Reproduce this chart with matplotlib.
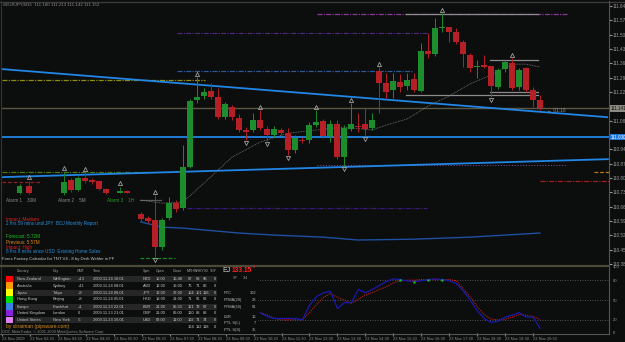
import numpy as np
import matplotlib
matplotlib.use('Agg')
import matplotlib.pyplot as plt
import matplotlib.patches as mpatches
from matplotlib.lines import Line2D

plt.rcParams['font.family'] = ['Liberation Sans', 'DejaVu Sans']

W, H = 625, 342
BG = '#0c0d0d'
GREEN = '#1c8c2c'
RED = '#b42026'
BLUE = '#2286e6'

# ---------------- data ----------------
opens = [110.624, 110.604, 110.594, 110.462, 110.604, 110.677, 110.653, 110.853, 111.181, 111.200,
         111.224, 111.195, 111.097, 111.146, 111.093, 111.034, 111.034, 111.083, 111.039, 111.010,
         111.034, 111.019, 110.937, 110.985, 110.985, 111.058, 111.078, 111.004, 111.063, 110.902,
         111.039, 111.054, 111.063, 111.044, 111.322, 111.264, 111.230, 111.268, 111.249, 111.283,
         111.224, 111.420, 111.405, 111.532, 111.537, 111.513, 111.464, 111.400, 111.342, 111.351,
         111.347, 111.244, 111.332, 111.361, 111.244, 111.337, 111.230, 111.181]
highs = [110.633, 110.614, 110.716, 110.604, 110.707, 110.692, 110.961, 111.185, 111.293, 111.239,
         111.264, 111.239, 111.171, 111.156, 111.112, 111.049, 111.117, 111.132, 111.054, 111.054,
         111.044, 111.044, 111.010, 111.000, 111.073, 111.132, 111.088, 111.083, 111.083, 111.058,
         111.166, 111.117, 111.141, 111.117, 111.342, 111.312, 111.312, 111.308, 111.312, 111.312,
         111.459, 111.508, 111.581, 111.605, 111.537, 111.532, 111.474, 111.410, 111.376, 111.400,
         111.347, 111.337, 111.376, 111.386, 111.337, 111.342, 111.244, 111.205]
lows = [110.589, 110.580, 110.414, 110.448, 110.594, 110.633, 110.643, 110.848, 111.166, 111.185,
        111.185, 111.088, 111.088, 111.083, 111.024, 110.985, 111.024, 111.034, 110.980, 111.000,
        111.010, 110.912, 110.921, 110.970, 110.970, 111.049, 110.995, 110.975, 110.892, 110.858,
        111.029, 111.024, 111.004, 111.034, 111.117, 111.190, 111.190, 111.220, 111.230, 111.220,
        111.220, 111.386, 111.395, 111.513, 111.464, 111.454, 111.342, 111.317, 111.288, 111.337,
        111.195, 111.234, 111.317, 111.230, 111.230, 111.220, 111.146, 111.132]
closes = [110.599, 110.589, 110.462, 110.594, 110.677, 110.648, 110.853, 111.176, 111.195, 111.220,
          111.195, 111.097, 111.161, 111.097, 111.034, 111.024, 111.083, 111.044, 111.010, 111.039,
          111.019, 110.937, 110.995, 110.980, 111.058, 111.073, 111.004, 111.063, 110.902, 111.044,
          111.063, 111.049, 111.039, 111.083, 111.264, 111.220, 111.273, 111.244, 111.278, 111.230,
          111.420, 111.405, 111.532, 111.537, 111.513, 111.464, 111.405, 111.337, 111.347, 111.342,
          111.249, 111.327, 111.366, 111.239, 111.327, 111.230, 111.181, 111.141]

# moving average (gray) and lower band (dark blue)
ma_idx = [0, 3, 6, 9, 13, 17, 21, 25, 29, 33, 35, 38, 41, 44, 47, 50, 53, 55, 57]
ma_val = [110.692, 110.677, 110.682, 110.775, 110.902, 110.975, 111.019, 111.034, 111.049, 111.034,
          111.058, 111.088, 111.151, 111.200, 111.259, 111.303, 111.356, 111.356, 111.342]
band_idx = [0, 3, 6, 14, 19, 26, 31, 39, 47, 52, 57]
band_val = [110.585, 110.560, 110.555, 110.531, 110.521, 110.511, 110.497, 110.501, 110.511, 110.521, 110.531]

# fractals
up_frac = [2, 8, 17, 25, 30, 34, 43, 53]
dn_frac = [2, 15, 18, 21, 29, 32, 50]

# trend lines (bar index, price)
down_trend = ([-19.9, 66.6], [111.332, 111.097])
up_trend = ([-19.9, 66.7], [110.804, 110.892])
blue_level = 111.000
bid = 111.141

# horizontal objects: price, from, to, colour, style, width
levels = [
    (111.278, -19.9, 9.1, '#8c8c12', (0, (4, 1, 1, 1)), 0.9),
    (111.508, 5.1, 40.9, '#4a2878', (0, (4, 1, 1, 1)), 0.9),
    (111.601, 25.1, 60.9, '#8a3a9a', (0, (4, 1, 1, 1)), 0.9),
    (111.322, 5.1, 38.9, '#2a5a9a', (0, (4, 1, 1, 1)), 0.9),
    (110.863, 25.1, 60.9, '#6a4a8a', (0, (1, 1.5)), 0.8),
    (110.829, 64.7, 66.9, '#c07a10', (0, (3, 1.5)), 0.9),
    (110.785, 57.0, 66.9, '#a02020', (0, (4, 1, 1, 1)), 0.9),
    (110.653, 6.6, 40.9, '#3a1a7a', (0, (4, 1, 1, 1)), 0.9),
    (110.829, -19.9, 1.3, '#4a7a10', (0, (4, 1, 1, 1)), 0.9),
    (110.780, -19.9, -14.3, '#8a2020', (0, (3, 1.5)), 0.9),
    (110.409, -0.1, 4.9, '#1a8a1a', (0, (3, 1.5)), 0.9),
    (111.601, 37.9, 56.7, '#8c8c8c', '-', 0.9),
    (111.376, 49.9, 56.7, '#8c8c8c', '-', 0.9),
    (111.205, 37.9, 56.7, '#8c8c8c', '-', 0.9),
    (111.220, 49.9, 56.7, '#8c8c8c', '-', 0.9),
    (110.692, -0.1, 2.9, '#5a5a5a', '-', 0.9),
]

# "Alarm" mini candles
al_idx = [-17.3, -16, -11, -10, -9, -8, -7, -6, -5, -3, -2]
al_o = [110.726, 110.760, 110.726, 110.790, 110.741, 110.799, 110.790, 110.785, 110.746, 110.729, 110.734]
al_h = [110.770, 110.785, 110.829, 110.799, 110.809, 110.824, 110.799, 110.790, 110.751, 110.756, 110.741]
al_l = [110.721, 110.721, 110.716, 110.731, 110.736, 110.775, 110.770, 110.741, 110.721, 110.726, 110.726]
al_c = [110.760, 110.726, 110.780, 110.741, 110.799, 110.785, 110.780, 110.746, 110.726, 110.734, 110.729]
al_frac = [1, 2, 5, 9]

# stochastic
st_idx = list(range(17, 58))
st_k = [30, 25, 22, 22, 22, 22, 20, 42, 55, 61, 63, 37, 46, 46, 66, 61, 66, 72, 78, 82, 81,
        79, 78, 79, 81, 82, 81, 79, 75, 64, 50, 34, 22, 16, 18, 24, 27, 31, 24, 24, 7]
st_d = [31, 27, 22, 20, 20, 20, 20, 31, 43, 54, 60, 54, 50, 45, 51, 58, 61, 66, 70, 76, 79,
        80, 80, 81, 81, 81, 81, 81, 79, 67, 55, 40, 28, 21, 20, 21, 24, 28, 27, 25, 20]
ob_idx = [37, 39, 41, 43]
st_levels = [20, 50, 80]

# price scale (the 111.150 and 111.010 rows are covered by the bid / level boxes)
price_ticks = [round(111.640 - 0.07 * k, 3) for k in range(19) if k not in (7, 9)]
time_idx = [-20 + 4 * k for k in range(20)]
time_lbl = ['23 Nov 2009'] + ['23 Nov %02d:30' % (k + 1) for k in range(1, 20)]

# calendar table
countries = ['New Zealand', 'Australia', 'Japan', 'Hong Kong', 'Europe', 'United Kingdom', 'United States']
cities = ['Wellington', 'Sydney', 'Tokyo', 'Beijing', 'Frankfurt', 'London', 'New York']
gmt = ['+13', '+11', '+9', '+8', '+1', '0', '-5']
loc_time = ['2009.11.24 10:01', '2009.11.24 08:01', '2009.11.24 06:01', '2009.11.24 05:01',
            '2009.11.23 22:01', '2009.11.23 21:01', '2009.11.23 16:01']
syms = ['NZD', 'AUD', 'JPY', 'HKD', 'EUR', 'GBP', 'USD']
open_t = ['10:00', '12:00', '13:00', '18:00', '21:00', '21:00', '02:00']
close_t = ['16:48', '16:00', '22:00', '21:00', '05:30', '06:00', '11:00']
mth = [67, 76, 104, 71, 121, 120, 102]
wrky = [68, 71, 101, 56, 78, 88, 71]
sd = [96, 86, 116, 62, 67, 88, 74]
tdy = [0, 0, 0, 0, 0, 0, 0]
totals = [164, 112, 118, 0]
swatches = ['#ff0000', '#ff9900', '#ffff00', '#00dd00', '#3a80e0', '#8a20e0', '#e080f0']

stats_lbl = ['PTC', 'PTMA(20)', 'PTMA(50)', 'LSR', 'PTL S(L)', 'PTL S(S)']
stats_val = ['302', '28', '61', '16', '7', '35']


def fx(x):
    return x / W


def fy(y):
    return 1 - y / H


def txt(x, y, s, c, size=3.3, **kw):
    fig.text(fx(x), fy(y), s, color=c, fontsize=size, va='center', zorder=6, **kw)


fig = plt.figure(figsize=(W / 100, H / 100), dpi=100, facecolor=BG)

# ---------------- main window ----------------
ax = fig.add_axes([fx(2), fy(266), 607 / W, 261 / H], facecolor=BG)
ax.set_xlim(-19.857, 66.857)
ax.set_ylim(110.370, 111.645)

for lv in levels:
    ax.plot([lv[1], lv[2]], [lv[0], lv[0]], color=lv[3], ls=lv[4], lw=lv[5], zorder=2)

ax.axhline(bid, color='#5a5844', lw=1, zorder=1)
ax.axhline(blue_level, color=BLUE, lw=1.3, zorder=3)
ax.plot(*down_trend, color=BLUE, lw=1.3, zorder=3)
ax.plot(*up_trend, color=BLUE, lw=1.3, zorder=3)
ax.plot(band_idx, band_val, color='#1f4fa0', lw=1, zorder=3)
ax.plot(ma_idx, ma_val, color='#7a7a7a', lw=0.6, ls=(0, (1, 1)), zorder=3)

for i in range(len(opens)):
    o, h, l, c = opens[i], highs[i], lows[i], closes[i]
    col = GREEN if c >= o else RED
    ax.vlines(i, l, h, color=col, lw=0.7, zorder=4)
    ax.bar(i, max(abs(c - o), 0.004), width=0.72, bottom=min(o, c), color=col, lw=0, zorder=5)

for i in range(len(al_idx)):
    o, h, l, c = al_o[i], al_h[i], al_l[i], al_c[i]
    col = GREEN if c >= o else RED
    ax.vlines(al_idx[i], l, h, color=col, lw=0.6, zorder=4)
    ax.bar(al_idx[i], max(abs(c - o), 0.004), width=0.72, bottom=min(o, c), color=col, lw=0, zorder=5)

mk = dict(ls='none', ms=3, mfc='none', mec='#a0a0a0', mew=0.6, zorder=6)
ax.plot(up_frac, [highs[i] + 0.016 for i in up_frac], marker='^', **mk)
ax.plot(dn_frac, [lows[i] - 0.016 for i in dn_frac], marker='v', **mk)
ax.plot([al_idx[i] for i in al_frac], [al_h[i] + 0.018 for i in al_frac], marker='^', **mk)

ax.yaxis.tick_right()
ax.set_yticks(price_ticks)
ax.set_yticklabels(['%.3f' % p for p in price_ticks])
ax.tick_params(axis='y', length=2, pad=1, labelsize=3.3, colors='#9a9a9a')
ax.set_xticks([])
for s in ax.spines.values():
    s.set_visible(False)

ax.text(1.002, bid, '%.3f' % bid, transform=ax.get_yaxis_transform(), fontsize=3.3, color='#101010',
        va='center', clip_on=False, zorder=7,
        bbox=dict(boxstyle='square,pad=0.2', fc='#8c8c80', ec='none'))
ax.text(1.002, blue_level, '%.3f' % blue_level, transform=ax.get_yaxis_transform(), fontsize=3.3,
        color='white', va='center', clip_on=False, zorder=7,
        bbox=dict(boxstyle='square,pad=0.2', fc='#1a78e0', ec='none'))

# ---------------- stochastic window ----------------
sub = fig.add_axes([fx(2), fy(333), 607 / W, 66 / H], facecolor=BG)
sub.set_xlim(-19.857, 66.857)
sub.set_ylim(0, 100)
for lv in st_levels:
    sub.axhline(lv, color='#6a6a6a', lw=0.6, ls=(0, (1, 2)))
sub.plot(st_idx, st_d, color='#c02020', lw=0.8, ls=(0, (1, 1)))
sub.plot(st_idx, st_k, color='#1a1ab0', lw=0.9)
sub.plot(ob_idx, [st_k[st_idx.index(i)] for i in ob_idx], ls='none', marker='.', ms=1.5, color='#20c020')
sub.yaxis.tick_right()
sub.set_yticks([0, 20, 50, 80, 100])
sub.tick_params(axis='y', length=0, pad=3, labelsize=3, colors='#9a9a9a')
sub.set_xticks(time_idx)
sub.set_xticklabels(time_lbl, ha='left')
sub.tick_params(axis='x', length=2, pad=1, labelsize=2.9, colors='#8a8a8a')
for s in sub.spines.values():
    s.set_visible(False)

# frame lines
for (x0, y0, x1, y1, c, w) in [(0, 1.5, 625, 1.5, '#3a3a3a', 1), (1, 1, 1, 334, '#333333', 0.8),
                               (609, 1, 609, 334, '#555555', 0.8), (0, 266, 609, 266, '#4e4a3a', 1.6),
                               (0, 334, 609, 334, '#555555', 0.8)]:
    fig.add_artist(Line2D([fx(x0), fx(x1)], [fy(y0), fy(y1)], color=c, lw=w, zorder=4))

# ---------------- texts on the main chart ----------------
txt(3, 4.5, '#EURJPY,M15  111.180 111.213 111.142 111.152', '#8c8c8c', 3.2)
txt(6, 200, 'Alarm 1    30M', '#8a8a8a', 3.3)
txt(58, 200, 'Alarm 2    5M', '#8a8a8a', 3.3)
txt(107, 200, 'Alarm 3    1H', '#2aa02a', 3.3)
txt(6, 219, 'Impact: Medium', '#e02020')
txt(6, 224, '2 hrs 59 mins until JPY  BOJ Monthly Report', '#2a92e0')
txt(6, 236, 'Forecast: 5.72M', '#20c020')
txt(6, 242, 'Previous: 5.57M', '#e08a18')
txt(6, 247, 'Impact: High', '#e02020')
txt(6, 252, '8 hrs 8 mins since USD  Existing Home Sales', '#2a92e0')
txt(2, 259, 'Forex Factory Calendar for TNT V4 - 8 by Derk Wehler in FF', '#c8c8c8', 3.1)
txt(547, 110, '\u2190 01:18', '#8a8a8a', 3.5)

# ---------------- calendar table ----------------
fig.add_artist(mpatches.Rectangle((fx(2), fy(333.5)), 256 / W, 66 / H, transform=fig.transFigure,
                                  fc=BG, ec='none', zorder=5))
row_y = [279, 285.7, 292.7, 299.3, 306.7, 313, 320]
for r in range(7):
    if r % 2 == 0:
        fig.add_artist(mpatches.Rectangle((fx(15), fy(row_y[r] + 3.2)), 202 / W, 6.4 / H,
                                          transform=fig.transFigure, fc='#262626', ec='none', zorder=5))
    fig.add_artist(mpatches.Rectangle((fx(6), fy(row_y[r] + 3.4)), 7 / W, 6.8 / H,
                                      transform=fig.transFigure, fc=swatches[r], ec='none', zorder=5))

hdr = [(17, 'Country'), (53, 'City'), (77, 'GMT'), (93, 'Time'), (143, 'Sym'), (156, 'Open'),
       (173, 'Close'), (187, 'MTH'), (194, 'WRKY'), (204, 'SD'), (209.5, 'TDY')]
for x, s in hdr:
    txt(x, 271, s, '#a8a8a8', 2.6)
cols = [(17, countries), (53, cities), (78, gmt), (93, loc_time), (143, syms), (156, open_t),
        (173, close_t), (188, mth), (196, wrky), (203, sd), (214, tdy)]
for r in range(7):
    for x, vals in cols:
        txt(x, row_y[r], str(vals[r]), '#c8c8c8', 2.9)
for x, v in zip([188, 196, 203, 214], totals):
    txt(x, 327, str(v), '#c8c8c8', 2.9)

txt(6, 326.5, 'by sliraiman (pipsware.com)', '#d88a1a', 3.6)
txt(2, 331.5, 'OOC MetaTrader, \u00a9 2001-2009 MetaQuotes Software Corp.', '#8a8a8a', 2.8)

# EJ info panel
txt(222, 271, 'EJ', '#d0d0d0', 5)
txt(232, 270, '133.15', '#ff2020', 4.8, weight='bold')
txt(253, 267, '8', '#ff2020', 2.8)
txt(233, 278, 'SP', '#a0a0a0', 2.7)
txt(243, 278, '3.4', '#a0a0a0', 2.7)
for y, lab, val in zip([293, 300, 307, 317, 323, 330], stats_lbl, stats_val):
    txt(224, y, lab, '#b8b8b8', 2.9)
    txt(256, y, val, '#b8b8b8', 2.9, ha='right')

fig.savefig('out.png', dpi=100, facecolor=BG)
